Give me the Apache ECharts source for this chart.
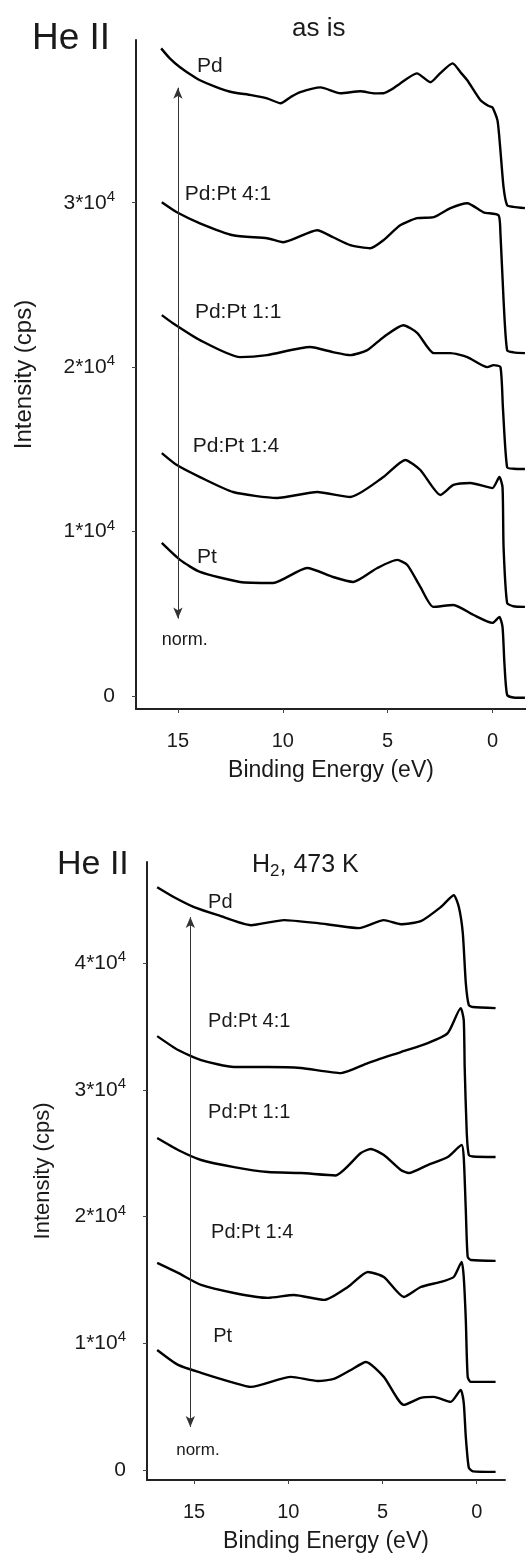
<!DOCTYPE html>
<html>
<head>
<meta charset="utf-8">
<script src="https://cdn.jsdelivr.net/npm/echarts@6/dist/echarts.min.js"></script>
<style>
  html, body { margin: 0; padding: 0; background: #fff; }
  #chart { width: 526px; height: 1554px; }
</style>
</head>
<body>
<div id="chart"></div>
<script>
// binding energy (eV), intensity (cps)
var asIsPd = [[15.8,39390],[15.4,38800],[14.9,38240],[14.4,37800],[13.95,37450],[13.2,37050],[12.4,36720],[11.5,36550],[10.75,36350],[10.1,36050],[9.6,36450],[9.2,36720],[8.2,37020],[7.25,36660],[6.3,36780],[5.6,36650],[5.2,36660],[4.8,36900],[4.4,37260],[3.6,37870],[2.96,37330],[2.5,37870],[1.9,38480],[1.5,37900],[1.2,37450],[0.57,36230],[0.2,35900],[0.0,35800],[-0.24,35010],[-0.38,33190],[-0.53,30940],[-0.7,29850],[-1.0,29750],[-1.55,29670]];
var asIs41 = [[15.77,30030],[15.05,29420],[13.95,28750],[12.37,28020],[10.75,27840],[9.98,27600],[8.36,28330],[7.6,27900],[6.78,27420],[5.83,27230],[5.2,27720],[4.4,28630],[3.6,29060],[2.8,29120],[2.0,29670],[1.2,29970],[0.43,29420],[-0.29,29240],[-0.38,28150],[-0.53,24070],[-0.7,21030],[-1.0,20900],[-1.55,20850]];
var asIs11 = [[15.77,23160],[15.24,22670],[13.95,21640],[12.04,20610],[10.75,20730],[8.7,21220],[7.6,20910],[6.78,20730],[5.97,21030],[5.2,21820],[4.25,22550],[3.58,22070],[2.8,20850],[2.0,20850],[1.2,20610],[0.24,20000],[-0.05,20120],[-0.38,20000],[-0.5,17500],[-0.7,13900],[-1.0,13820],[-1.55,13800]];
var asIs14 = [[15.77,14770],[15.05,14040],[13.95,13310],[12.37,12400],[10.27,12040],[8.36,12400],[6.78,12100],[5.2,13310],[4.16,14350],[3.44,13740],[2.48,12220],[1.86,12830],[1.05,12950],[0.0,12640],[-0.33,13310],[-0.48,12700],[-0.53,9060],[-0.7,5650],[-1.0,5450],[-1.55,5410]];
var asIsPt = [[15.77,9300],[14.9,8270],[13.95,7540],[12.04,6930],[10.46,6870],[8.84,7780],[7.6,7230],[6.64,6930],[5.49,7780],[4.54,8270],[4.06,7960],[3.44,6630],[2.82,5410],[1.86,5530],[0.9,4920],[0.0,4440],[-0.33,4800],[-0.48,4190],[-0.57,2000],[-0.7,60],[-1.0,-100],[-1.55,-120]];

var h2Pd = [[16.96,46010],[16.06,45220],[15.0,44440],[13.73,43800],[11.98,43010],[10.23,43410],[8.43,43170],[7.58,43010],[6.25,42780],[4.93,43410],[4.03,43090],[2.97,43330],[1.91,44440],[1.22,45380],[0.95,44440],[0.74,42380],[0.58,38440],[0.42,36700],[0.2,36550],[-1.0,36460]];
var h241 = [[16.96,34250],[15.85,33150],[14.63,32360],[12.88,31810],[11.08,31810],[9.33,31730],[7.2,31330],[5.78,32120],[4.03,32990],[2.6,33700],[1.54,34490],[0.85,36460],[0.69,35520],[0.64,31810],[0.53,26600],[0.42,24860],[0.2,24750],[-1.0,24700]];
var h211 = [[16.96,26200],[15.85,25260],[14.63,24470],[12.88,23910],[11.08,23520],[9.33,23440],[7.5,23250],[6.15,25020],[5.62,25340],[4.93,24860],[4.03,23680],[3.6,23440],[2.6,24070],[1.54,24700],[0.8,25650],[0.69,24700],[0.58,20500],[0.48,16810],[0.3,16570],[-1.0,16500]];
var h214 = [[16.96,16340],[15.85,15550],[14.63,14600],[12.88,13970],[11.08,13580],[9.7,13810],[8.1,13420],[6.84,14440],[5.78,15630],[4.93,15230],[3.87,13650],[2.97,14440],[1.91,14840],[1.22,15230],[0.8,16420],[0.69,15230],[0.58,11840],[0.48,7340],[0.32,6950],[-1.0,6950]];
var h2Pt = [[16.96,9470],[15.85,8290],[14.63,7660],[12.88,6870],[11.98,6550],[9.86,7340],[8.43,7020],[7.58,7180],[6.68,7890],[5.88,8520],[4.93,7340],[3.87,5130],[2.97,5680],[2.28,5760],[1.38,5370],[0.85,6310],[0.69,5290],[0.58,2600],[0.42,160],[0.2,-120],[-1.0,-160]];

var sampleNames = ['Pd', 'Pd:Pt 4:1', 'Pd:Pt 1:1', 'Pd:Pt 1:4', 'Pt'];
var energyTicks = [0, 5, 10, 15];
var intensityTicks = [0, 10000, 20000, 30000];
var intensityTicksH2 = [0, 10000, 20000, 30000, 40000];

var font = 'Liberation Sans, Arial, Helvetica, sans-serif';
var ink = '#1a1a1a';

function tickLabel(v) {
  if (v === 0) return '{n|0}';
  return '{n|' + (v / 10000) + '*10}{s|4}';
}

function xAxis(grid, min, max, gap) {
  return {
    type: 'value', gridIndex: grid, inverse: true, min: min, max: max,
    name: 'Binding Energy (eV)', nameLocation: 'middle', nameGap: gap,
    nameTextStyle: { fontSize: 23, color: ink, fontFamily: font },
    axisLine: { show: true, onZero: false, lineStyle: { color: '#222', width: 2 } },
    axisTick: { show: true, length: 4, customValues: energyTicks, lineStyle: { color: '#444' } },
    axisLabel: { customValues: energyTicks, fontSize: 20, color: ink, fontFamily: font, margin: 22 },
    splitLine: { show: false }
  };
}

function yAxis(grid, max, ticks, gap, nameSize) {
  return {
    type: 'value', gridIndex: grid, min: -800, max: max,
    name: 'Intensity (cps)', nameLocation: 'middle', nameGap: gap,
    nameTextStyle: { fontSize: nameSize, color: ink, fontFamily: font },
    axisLine: { show: true, onZero: false, lineStyle: { color: '#222', width: 2 } },
    axisTick: { show: true, length: 4, customValues: ticks, lineStyle: { color: '#444' } },
    axisLabel: {
      customValues: ticks, margin: 21, formatter: tickLabel,
      rich: {
        n: { fontSize: 21, color: ink, fontFamily: font, lineHeight: 21, verticalAlign: 'bottom' },
        s: { fontSize: 15, color: ink, fontFamily: font, lineHeight: 15, padding: [0, 0, 9, 0], verticalAlign: 'bottom' }
      }
    },
    splitLine: { show: false }
  };
}

function tag(coord, text, size) {
  return {
    coord: coord, symbol: 'circle', symbolSize: 0,
    label: { show: true, position: 'right', distance: 0, formatter: text, fontSize: size, color: ink, fontFamily: font }
  };
}

function curve(data, grid, tags, arrow) {
  var s = {
    type: 'line', data: data, xAxisIndex: grid, yAxisIndex: grid,
    showSymbol: false, smooth: 0.2, silent: true,
    lineStyle: { color: '#000', width: 2.4 },
    markPoint: { silent: true, data: tags }
  };
  if (arrow) {
    s.markLine = {
      silent: true, symbol: ['arrow', 'arrow'], symbolSize: [7, 11],
      lineStyle: { color: '#333', width: 1, type: 'solid' },
      label: { show: false },
      data: [[{ coord: arrow[0] }, { coord: arrow[1] }]]
    };
  }
  return s;
}

var chart = echarts.init(document.getElementById('chart'));
chart.setOption({
  animation: false,
  backgroundColor: '#fff',
  title: [
    { text: 'He II', left: 32, top: 20, padding: 0, textStyle: { fontSize: 37, fontWeight: 'normal', color: ink, fontFamily: font } },
    { text: 'as is', left: 292, top: 16, padding: 0, textStyle: { fontSize: 26, fontWeight: 'normal', color: ink, fontFamily: font } },
    { text: 'He II', left: 57, top: 848, padding: 0, textStyle: { fontSize: 34, fontWeight: 'normal', color: ink, fontFamily: font } },
    { text: '{a|H}{b|2}{a|, 473 K}', left: 252, top: 850, padding: 0, textStyle: {
      fontWeight: 'normal',
      rich: {
        a: { fontSize: 25, fontWeight: 'normal', color: ink, fontFamily: font, lineHeight: 30 },
        b: { fontSize: 17, fontWeight: 'normal', color: ink, fontFamily: font, lineHeight: 17, verticalAlign: 'bottom' }
      } } }
  ],
  grid: [
    { left: 136, top: 40, right: 0, height: 669 },
    { left: 147, top: 862, right: 21, height: 618 }
  ],
  xAxis: [xAxis(0, -1.6, 17, 50), xAxis(1, -1.5, 17.5, 50)],
  yAxis: [yAxis(0, 39900, intensityTicks, 100, 24), yAxis(1, 48000, intensityTicksH2, 93, 22)],
  series: [
    curve(asIsPd, 0, [tag([14.09, 38300], sampleNames[0], 21)], [[15, 37000], [15, 4700]]),
    curve(asIs41, 0, [tag([14.67, 30490], sampleNames[1], 21)]),
    curve(asIs11, 0, [tag([14.19, 23310], sampleNames[2], 21)]),
    curve(asIs14, 0, [tag([14.29, 15200], sampleNames[3], 21)]),
    curve(asIsPt, 0, [tag([14.09, 8450], sampleNames[4], 21), tag([15.77, 3400], 'norm.', 18)]),
    curve(h2Pd, 1, [tag([14.26, 44830], sampleNames[0], 20)], [[15.2, 43650], [15.2, 3390]]),
    curve(h241, 1, [tag([14.26, 35440], sampleNames[1], 20)]),
    curve(h211, 1, [tag([14.26, 28260], sampleNames[2], 20)]),
    curve(h214, 1, [tag([14.1, 18710], sampleNames[3], 20)]),
    curve(h2Pt, 1, [tag([13.99, 10500], sampleNames[4], 20), tag([15.95, 1580], 'norm.', 17)])
  ]
});
</script>
</body>
</html>
